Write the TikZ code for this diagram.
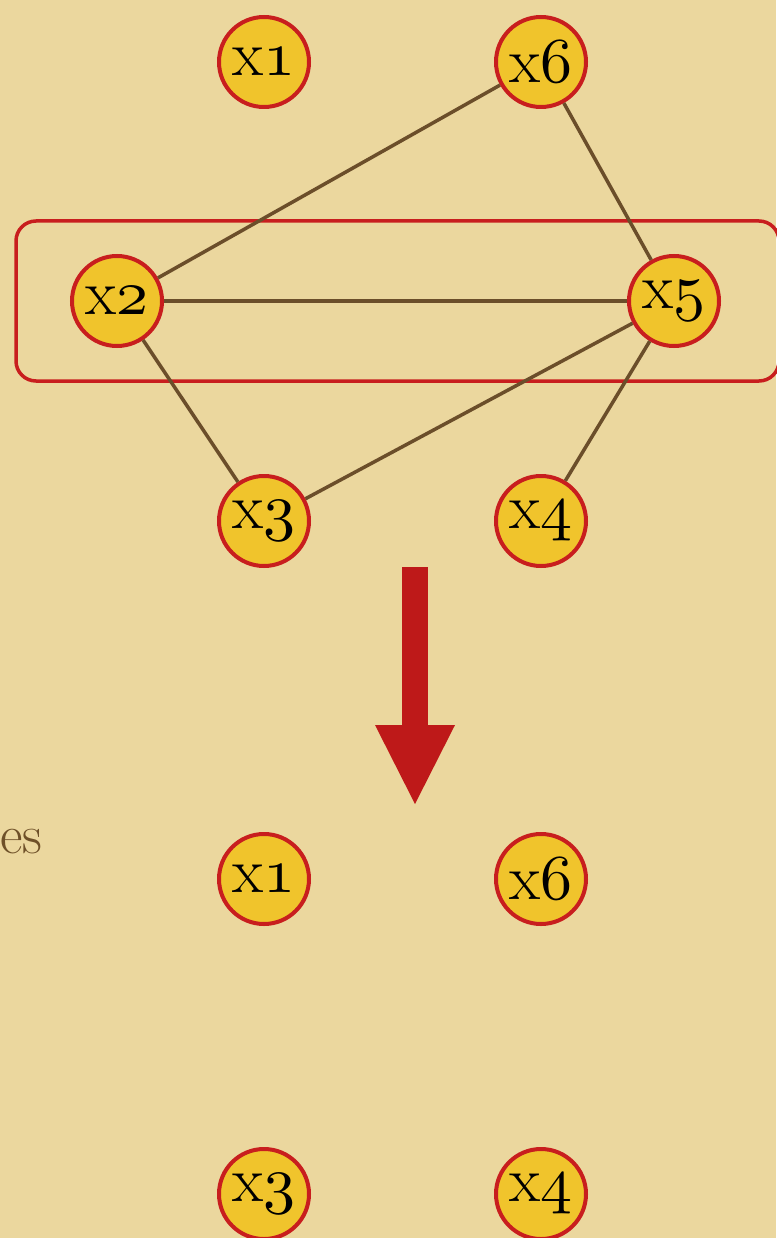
\documentclass[tikz,border=0pt]{standalone}
\definecolor{bg}{RGB}{235,215,158}
\definecolor{nodefill}{RGB}{240,196,44}
\definecolor{nodered}{RGB}{200,30,30}
\definecolor{edgebrown}{RGB}{107,78,42}
\definecolor{arrowred}{RGB}{190,25,25}
\definecolor{textbrown}{RGB}{110,80,40}
\newcommand{\osdig}[1]{\scalebox{6.4}{\fontsize{10}{12}\usefont{OML}{cmm}{m}{it}#1}}
\newcommand{\vlab}[1]{x\osdig{#1}}
\tikzset{
  vert/.style={circle, draw=nodered, line width=4pt, fill=nodefill, minimum size=90pt, inner sep=0pt,
    font=\fontsize{64}{64}\selectfont, text=black},
  edge/.style={draw=edgebrown, line width=3.5pt},
  groupbox/.style={draw=nodered, line width=3.5pt, rounded corners=20pt},
}
\begin{document}
\begin{tikzpicture}[x=1pt,y=-1pt]
\fill[bg] (0,0) rectangle (776,1238);
\useasboundingbox (0,0) rectangle (776,1238);
% top graph
\draw[groupbox] (16,221) rectangle (779,381);
\node[vert] (a1) at (264,62) {\vlab{1}};
\node[vert] (a6) at (541,62) {\vlab{6}};
\node[vert] (a2) at (117,301) {\vlab{2}};
\node[vert] (a5) at (674,301) {\vlab{5}};
\node[vert] (a3) at (264,521) {\vlab{3}};
\node[vert] (a4) at (541,521) {\vlab{4}};
\draw[edge] (a2) -- (a6);
\draw[edge] (a2) -- (a5);
\draw[edge] (a2) -- (a3);
\draw[edge] (a6) -- (a5);
\draw[edge] (a5) -- (a3);
\draw[edge] (a5) -- (a4);
% arrow
\fill[arrowred] (402,567) rectangle (428,727);
\fill[arrowred] (375,725) -- (455,725) -- (415,804) -- cycle;
% text
\node[anchor=base west, inner sep=0pt, text=textbrown, font=\fontsize{55}{55}\selectfont] (es) at (0,853) {es};
% bottom graph
\node[vert] (b1) at (264,879) {\vlab{1}};
\node[vert] (b6) at (541,879) {\vlab{6}};
\node[vert] (b3) at (264,1194) {\vlab{3}};
\node[vert] (b4) at (541,1194) {\vlab{4}};
\end{tikzpicture}
\end{document}
